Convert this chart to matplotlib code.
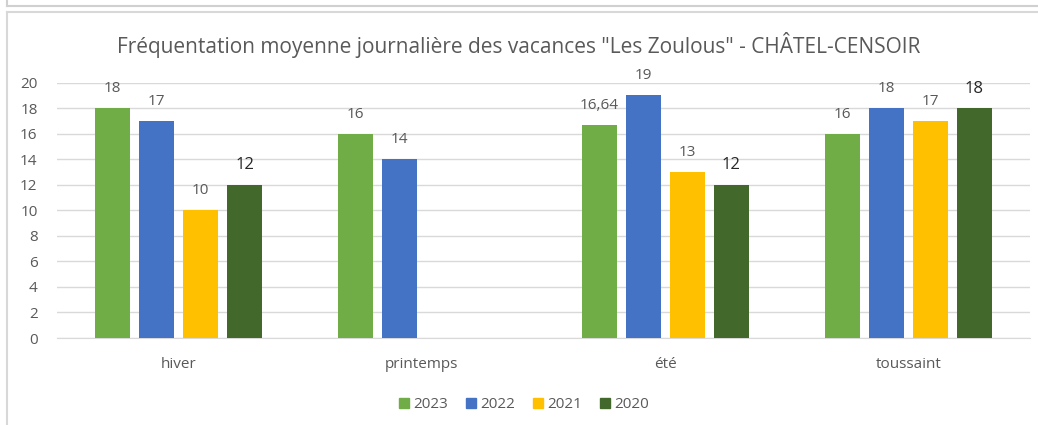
import matplotlib
matplotlib.use('Agg')
import matplotlib.pyplot as plt
import numpy as np
from matplotlib.lines import Line2D

plt.rcParams['font.family'] = ['Liberation Sans Narrow', 'Open Sans', 'DejaVu Sans']

# données
categories = ['hiver', 'printemps', 'été', 'toussaint']
series = ['2023', '2022', '2021', '2020']
values = {
    '2023': [18, 16, 16.64, 16],
    '2022': [17, 14, 19, 18],
    '2021': [10, np.nan, 13, 17],
    '2020': [12, np.nan, 12, 18],
}
colors = {'2023': '#70AD47', '2022': '#4472C4', '2021': '#FFC000', '2020': '#43682B'}
title = 'Fréquentation moyenne journalière des vacances "Les Zoulous" - CHÂTEL-CENSOIR'

grey = '#595959'

fig = plt.figure(figsize=(10.38, 4.25), dpi=100)
ax = fig.add_axes([57 / 1038, 87 / 425, 973 / 1038, 255.5 / 425])

x = np.arange(len(categories))
step = 0.181
width = 0.144

for i, s in enumerate(series):
    pos = x + (i - 1.5) * step
    vals = np.array(values[s], dtype=float)
    ax.bar(pos, vals, width=width, color=colors[s], zorder=3)
    for p, v in zip(pos, vals):
        if np.isnan(v):
            continue
        txt = ('%g' % v).replace('.', ',')
        if s == '2020':
            ax.annotate(txt, (p, v), xytext=(0, 14), textcoords='offset points',
                        ha='center', va='center', fontsize=12, color='#262626')
        else:
            ax.annotate(txt, (p, v), xytext=(0, 14), textcoords='offset points',
                        ha='center', va='center', fontsize=11, color=grey)

ax.set_xlim(-0.5, len(categories) - 0.5)
ax.set_ylim(0, 20)
ax.set_yticks(range(0, 21, 2))
ax.set_xticks(x)
ax.set_xticklabels(categories)
ax.yaxis.grid(True, color='#D9D9D9', linewidth=1, zorder=0)
for sp in ['top', 'right', 'left']:
    ax.spines[sp].set_visible(False)
ax.spines['bottom'].set_color('#D9D9D9')
ax.tick_params(axis='both', length=0, labelsize=11, colors=grey)
ax.tick_params(axis='x', pad=14)
ax.tick_params(axis='y', pad=14)

fig.text(0.5, 1 - 45 / 425, title, ha='center', va='center', fontsize=15, color=grey)

handles = [Line2D([0], [0], marker='s', linestyle='none', markersize=7,
                  markerfacecolor=colors[s], markeredgecolor=colors[s]) for s in series]
fig.legend(handles, series, loc='center', bbox_to_anchor=(523 / 1038, 1 - 405 / 425),
           ncol=4, frameon=False, fontsize=11, labelcolor=grey,
           handletextpad=0.1, columnspacing=1.0, handlelength=1.0)

# cadre de la capture
fig.add_artist(Line2D([7 / 1038, 1], [1 - 6 / 425] * 2, color='#D0D0D0', linewidth=1.5))
fig.add_artist(Line2D([7 / 1038, 1], [1 - 12 / 425] * 2, color='#D8D8D8', linewidth=1.5))
fig.add_artist(Line2D([7 / 1038] * 2, [0, 1 - 12 / 425], color='#D8D8D8', linewidth=1.5))
fig.add_artist(Line2D([7 / 1038] * 2, [1 - 6 / 425, 1], color='#D0D0D0', linewidth=1.5))

fig.savefig('out.png', dpi=100)
